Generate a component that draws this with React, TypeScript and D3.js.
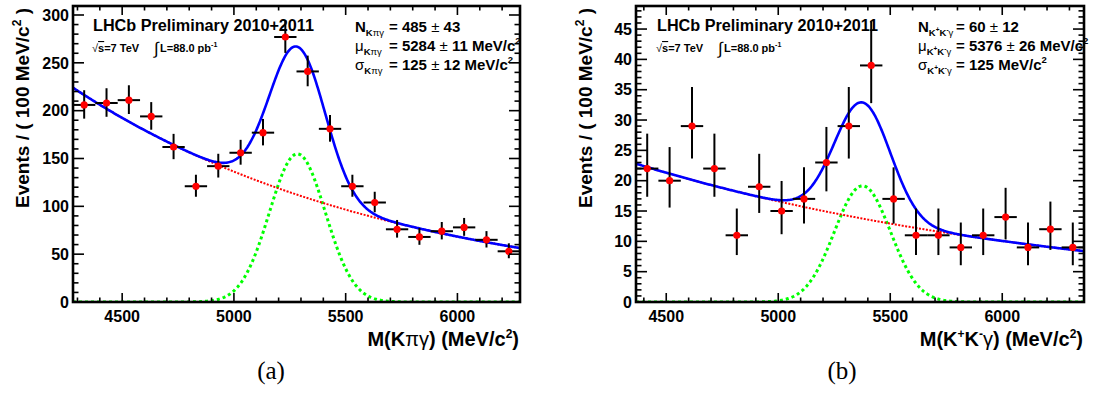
import React from 'react';
import * as d3 from 'd3';

// panel (a): B -> K pi gamma candidates, bins of 100 MeV/c2
const massA = [4330, 4430, 4530, 4630, 4730, 4830, 4930, 5030, 5130, 5230,
  5330, 5430, 5530, 5630, 5730, 5830, 5930, 6030, 6130, 6230];
const countsA = [206, 208, 211, 194, 162, 121, 142, 156, 177, 277,
  241, 181, 121, 104, 76, 68, 74, 78, 65, 53];

// panel (b): K+ K- gamma candidates
const massB = [4415, 4515, 4615, 4715, 4815, 4915, 5015, 5115, 5215, 5315,
  5415, 5515, 5615, 5715, 5815, 5915, 6015, 6115, 6215, 6315];
const countsB = [22, 20, 29, 22, 11, 19, 15, 17, 23, 29,
  39, 17, 11, 11, 9, 11, 14, 9, 12, 9];

// fit results shown in the legends (signal yield, mean, width) + exponential background
const sigA = [485, 5284, 125];
const bkgA = [224, -0.00069];
const sigB = [60, 5376, 125];
const bkgB = [22.8, -0.0005];

const xTicksMajor = [4500, 5000, 5500, 6000];

const BOLD = '"Liberation Sans", Arial, Helvetica, sans-serif';

// asymmetric poisson errors (Wilson-Hilferty approx), like ROOT does for counts
const errLo = (n: number) => n - n * Math.pow(1 - 1 / (9 * n) - 1 / (3 * Math.sqrt(n)), 3);
const errHi = (n: number) => (n + 1) * Math.pow(1 - 1 / (9 * (n + 1)) + 1 / (3 * Math.sqrt(n + 1)), 3) - n;

type PanelProps = {
  id: string;
  left: number;
  right: number;
  xDomain: [number, number];
  yMax: number;
  yMajor: number;
  yMinor: number;
  mass: number[];
  counts: number[];
  sig: number[];
  bkg: number[];
  legend: React.ReactNode;
  xTitle: React.ReactNode;
};

const Panel = ({ id, left, right, xDomain, yMax, yMajor, yMinor, mass, counts, sig, bkg, legend, xTitle }: PanelProps) => {
  const top = 6;
  const bottom = 302;
  const x = d3.scaleLinear().domain(xDomain).range([left, right]);
  const y = d3.scaleLinear().domain([0, yMax]).range([bottom, top]);
  const binW = 100;

  const [N, mu, sigma] = sig;
  const [b0, slope] = bkg;
  const signal = (m: number) => N * binW / (sigma * Math.sqrt(2 * Math.PI)) * Math.exp(-0.5 * ((m - mu) / sigma) ** 2);
  const background = (m: number) => b0 * Math.exp(slope * (m - xDomain[0]));
  const grid = d3.range(xDomain[0], xDomain[1] + 0.1, 4);

  const line = d3.line<number>().x((m) => x(m));
  const bgPath = line.y((m) => y(background(m)))(grid);
  const sigPath = line.y((m) => y(signal(m)))(grid);
  const totPath = line.y((m) => y(signal(m) + background(m)))(grid);

  const xMinor = d3.range(Math.ceil(xDomain[0] / 100) * 100, xDomain[1], 100);
  const yMajors = d3.range(0, yMax, yMajor);
  const yMinors = d3.range(0, yMax, yMinor);

  return (
    <g>
      <defs>
        <clipPath id={`clip-${id}`}>
          <rect x={left} y={top} width={right - left} height={bottom - top} />
        </clipPath>
      </defs>

      {legend}

      <g clipPath={`url(#clip-${id})`} fill="none">
        <path d={sigPath || ''} stroke="#00ff00" strokeWidth={3} strokeDasharray="3 3" />
        <path d={bgPath || ''} stroke="#ff0000" strokeWidth={2} strokeDasharray="2 1.5" />
        <path d={totPath || ''} stroke="#0000ff" strokeWidth={2.6} />
      </g>

      <g>
        {mass.map((m, i) => {
          const n = counts[i];
          return (
            <g key={i}>
              <line x1={x(m - binW / 2)} x2={x(m + binW / 2)} y1={y(n)} y2={y(n)} stroke="#000" strokeWidth={2} />
              <line x1={x(m)} x2={x(m)} y1={y(n - errLo(n))} y2={Math.max(top, y(n + errHi(n)))} stroke="#000" strokeWidth={2} />
              <circle cx={x(m)} cy={y(n)} r={3.6} fill="#ff0000" />
            </g>
          );
        })}
      </g>

      {/* ticks, ROOT style: inside, on all four sides */}
      <g stroke="#000" strokeWidth={1.6}>
        {xMinor.map((v) => {
          const major = v % 500 === 0;
          const len = major ? 9 : 4.5;
          return (
            <g key={`x${v}`}>
              <line x1={x(v)} x2={x(v)} y1={bottom} y2={bottom - len} />
              <line x1={x(v)} x2={x(v)} y1={top} y2={top + len} />
            </g>
          );
        })}
        {yMinors.map((v, i) => {
          const major = Math.abs(v / yMajor - Math.round(v / yMajor)) < 1e-6;
          const len = major ? 11 : 5.5;
          return (
            <g key={`y${i}`}>
              <line x1={left} x2={left + len} y1={y(v)} y2={y(v)} />
              <line x1={right} x2={right - len} y1={y(v)} y2={y(v)} />
            </g>
          );
        })}
      </g>
      <rect x={left} y={top} width={right - left} height={bottom - top} fill="none" stroke="#000" strokeWidth={2.6} />

      <g fontFamily={BOLD} fontWeight="bold" fontSize={16} fill="#000">
        {xTicksMajor.map((v) => (
          <text key={v} x={x(v)} y={322} textAnchor="middle">{v}</text>
        ))}
        {yMajors.map((v) => (
          <text key={v} x={left - 4} y={y(v)} dy="0.36em" textAnchor="end">{v}</text>
        ))}
      </g>

      <text transform={`translate(${left - 44},8) rotate(-90)`} textAnchor="end"
        fontFamily={BOLD} fontWeight="bold" fontSize={19}>
        Events / ( 100 MeV/c<tspan fontSize={12} dy={-8}>2</tspan><tspan dy={8}> )</tspan>
      </text>
      <text x={right - 1} y={346} textAnchor="end" fontFamily={BOLD} fontWeight="bold" fontSize={20}>
        {xTitle}
      </text>
    </g>
  );
};

const Header = ({ x0 }: { x0: number }) => (
  <g fontFamily={BOLD} fontWeight="bold" fill="#000">
    <text x={x0} y={31} fontSize={16} textLength={221} lengthAdjust="spacingAndGlyphs">LHCb Preliminary 2010+2011</text>
    <text x={x0 - 1} y={52} fontSize={11}>
      <tspan fontWeight="normal">√</tspan><tspan textDecoration="overline">s</tspan>=7 TeV
    </text>
    <text x={x0 + 61} y={54} fontSize={17} fontWeight="normal">∫</text>
    <text x={x0 + 67} y={52} fontSize={11}>
      L=88.0 pb<tspan fontSize={7} dy={-5}>-1</tspan>
    </text>
  </g>
);

const subA = (
  <tspan fontSize={9.5} dy={4}>K<tspan fontWeight="normal">πγ</tspan></tspan>
);
const subB = (
  <tspan fontSize={9.5} dy={4}>K<tspan fontSize={6.5} dy={-4}>+</tspan><tspan dy={4}>K</tspan><tspan fontSize={6.5} dy={-4}>-</tspan><tspan fontWeight="normal" dy={4}>γ</tspan></tspan>
);

const LegendFit = ({ x0, xEq, sub, vals }: { x0: number; xEq: number; sub: React.ReactNode; vals: React.ReactNode[] }) => (
  <g fontFamily={BOLD} fontWeight="bold" fontSize={15} fill="#000">
    <text x={x0} y={32}>N{sub}</text>
    <text x={x0} y={51}><tspan fontWeight="normal">μ</tspan>{sub}</text>
    <text x={x0} y={70}><tspan fontWeight="normal">σ</tspan>{sub}</text>
    {vals.map((v, i) => (
      <text key={i} x={xEq} y={32 + i * 19}>= {v}</text>
    ))}
  </g>
);

const pm = <tspan fontWeight="normal">±</tspan>;
const sq = <tspan fontSize={9.5} dy={-7}>2</tspan>;

export default function App() {
  return (
    <svg width={1097} height={403} style={{ position: 'absolute', left: 0, top: 0, background: '#fff' }}>
      <Panel
        id="a" left={73} right={520} xDomain={[4280, 6280]} yMax={309.4} yMajor={50} yMinor={10}
        mass={massA} counts={countsA} sig={sigA} bkg={bkgA}
        legend={
          <g>
            <Header x0={93} />
            <LegendFit x0={355} xEq={389} sub={subA} vals={[
              <tspan> 485 {pm} 43</tspan>,
              <tspan> 5284 {pm} 11 MeV/c{sq}</tspan>,
              <tspan> 125 {pm} 12 MeV/c{sq}</tspan>,
            ]} />
          </g>
        }
        xTitle={<tspan>M(K<tspan fontWeight="normal">πγ</tspan>) (MeV/c<tspan fontSize={12} dy={-8}>2</tspan><tspan dy={8}>)</tspan></tspan>}
      />
      <Panel
        id="b" left={636} right={1084} xDomain={[4365, 6365]} yMax={48.8} yMajor={5} yMinor={1}
        mass={massB} counts={countsB} sig={sigB} bkg={bkgB}
        legend={
          <g>
            <Header x0={657} />
            <LegendFit x0={918} xEq={956} sub={subB} vals={[
              <tspan> 60 {pm} 12</tspan>,
              <tspan> 5376 {pm} 26 MeV/c{sq}</tspan>,
              <tspan> 125 MeV/c{sq}</tspan>,
            ]} />
          </g>
        }
        xTitle={<tspan>M(K<tspan fontSize={12} dy={-8}>+</tspan><tspan dy={8}>K</tspan><tspan fontSize={12} dy={-8}>-</tspan><tspan fontWeight="normal" dy={8}>γ</tspan>) (MeV/c<tspan fontSize={12} dy={-8}>2</tspan><tspan dy={8}>)</tspan></tspan>}
      />
      <g fontFamily='"Liberation Serif", "DejaVu Serif", serif' fontSize={25} textAnchor="middle">
        <text x={271} y={379}>(a)</text>
        <text x={842} y={379}>(b)</text>
      </g>
    </svg>
  );
}
